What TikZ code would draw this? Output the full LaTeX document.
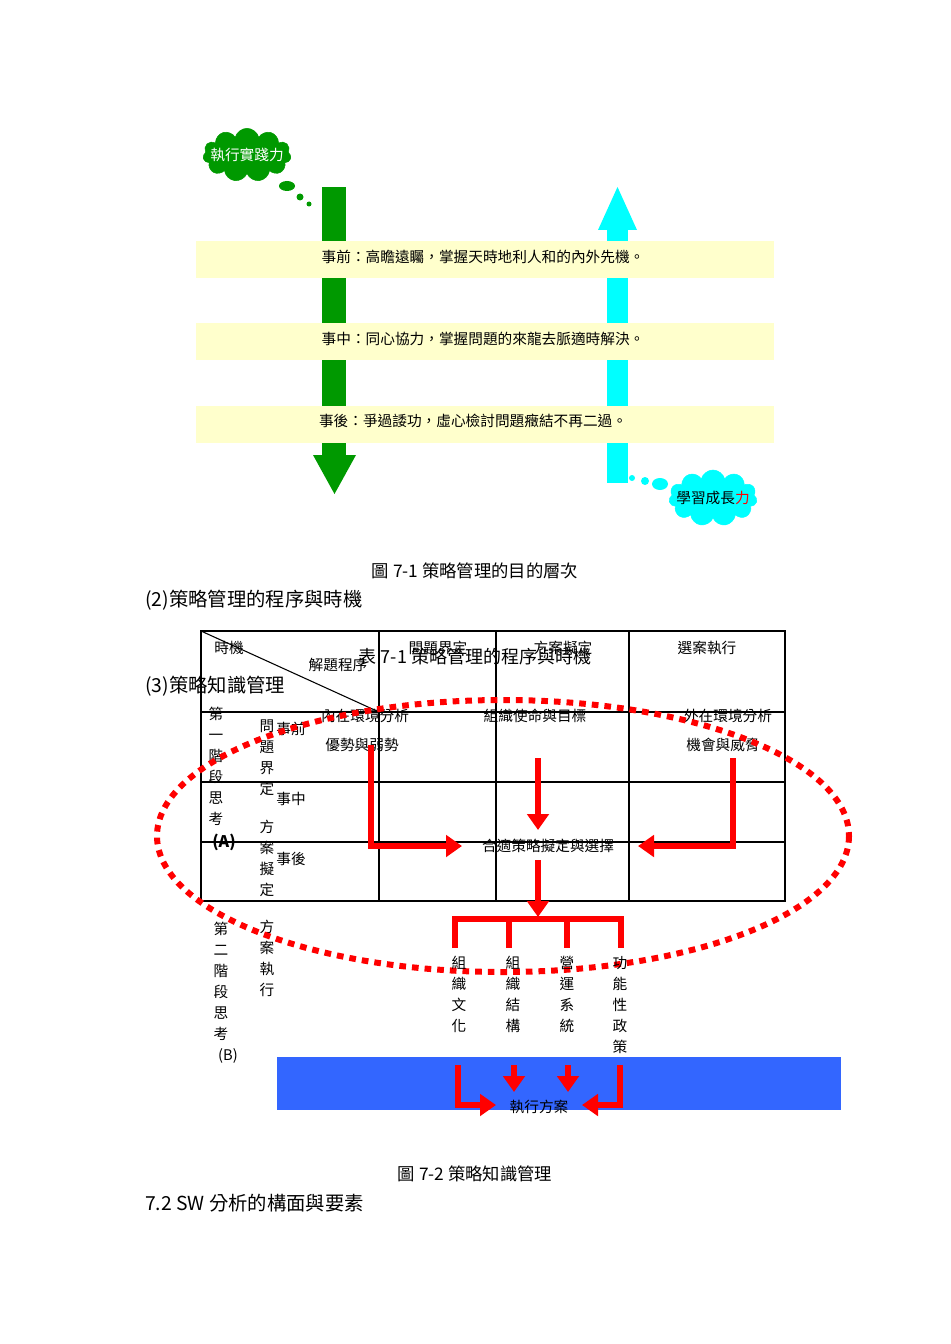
\documentclass[tikz,border=0pt]{standalone}
\usepackage{fontspec}
\setmainfont{Noto Sans CJK TC}
\usetikzlibrary{shapes.symbols,arrows.meta}
\definecolor{band}{HTML}{FFFFCC}
\definecolor{gbar}{HTML}{009900}
\definecolor{cbar}{HTML}{00FFFF}
\definecolor{bbar}{HTML}{3366FF}
\begin{document}
\begin{tikzpicture}[x=0.75pt,y=-0.75pt,
  t/.style={font=\fontsize{11}{11}\selectfont,inner sep=0pt},
  big/.style={font=\fontsize{14.5}{14.5}\selectfont,inner sep=0pt},
  vt/.style={t,align=center,anchor=north,font=\fontsize{11}{15.7}\selectfont},
  rarr/.style={red,line width=4.5pt,-{Triangle[length=12pt,width=16pt]}},
  rl/.style={red,line width=4.5pt}]
\useasboundingbox (0,0) rectangle (950,1344);
% top diagram
\fill[gbar] (322,187) rectangle (346,456);
\fill[gbar] (313,455) -- (356,455) -- (334.5,494) -- cycle;
\fill[cbar] (607,483) rectangle (628,228);
\fill[cbar] (598,230) -- (637,230) -- (617.5,187) -- cycle;
\foreach \y in {241,323,406} \fill[band] (196,\y) rectangle (774,\y+37);
\node[t] (b1) at (483,257) {事前：高瞻遠矚，掌握天時地利人和的內外先機。};
\node[t] (b2) at (483,339) {事中：同心協力，掌握問題的來龍去脈適時解決。};
\node[t] (b3) at (473,421) {事後：爭過諉功，虛心檢討問題癥結不再二過。};
\node[cloud,fill=gbar,draw=gbar,cloud puffs=11,minimum width=66pt,minimum height=40pt,aspect=1.7] (c1) at (247,155) {};
\node[t,white] at (c1) {執行實踐力};
\fill[gbar] (287,186) ellipse (8 and 5) (300,197) circle (3.5) (309,204) circle (2.5);
\node[cloud,fill=cbar,draw=cbar,cloud puffs=11,minimum width=66pt,minimum height=42pt,aspect=1.7] (c2) at (713,498) {};
\node[t] at (c2) {學習成長\textcolor{red}{力}};
\fill[cbar] (632,478) circle (3) (645,481) circle (4) (660,484) ellipse (8 and 6);
\node[t,font=\fontsize{13}{13}\selectfont] (cap1) at (475,571) {圖 7-1 策略管理的目的層次};
\node[big,anchor=west] (h2) at (145,600) {(2)策略管理的程序與時機};
% table
\draw[thick] (201,631) rectangle (785,901);
\foreach \x in {379,496,629} \draw[thick] (\x,631) -- (\x,901);
\foreach \y in {712,782,842} \draw[thick] (201,\y) -- (785,\y);
\draw[thick] (201,631) -- (379,712);
\node[t] (hd0) at (229,648) {時機};
\node[t] (hd1) at (338,665) {解題程序};
\node[t] (hd2) at (438,648) {問題界定};
\node[t] (hd3) at (563,648) {方案擬定};
\node[t] (hd4) at (707,648) {選案執行};
\node[t,font=\fontsize{13.5}{13.5}\selectfont] (cap2) at (475,657) {表 7-1 策略管理的程序與時機};
\node[big,anchor=west] (h3) at (145,686) {(3)策略知識管理};
\node[t] (r1) at (365,716) {內在環境分析};
\node[t] (r2) at (362,745) {優勢與弱勢};
\node[t] (r3) at (535,716) {組織使命與目標};
\node[t] (r4) at (728,716) {外在環境分析};
\node[t] (r5) at (723,745) {機會與威脅};
\node[t] (mid) at (548,846) {合適策略擬定與選擇};
\node[vt] at (216,707) {第\\一\\階\\段\\思\\考};
\node[t,font=\bfseries\fontsize{12}{12}\selectfont] at (224,842) {(A)};
\node[vt] at (267,720) {問\\題\\界\\定};
\node[vt] at (267,820) {方\\案\\擬\\定};
\node[t] at (291,729) {事前};
\node[t] at (291,799) {事中};
\node[t] at (291,859) {事後};
\node[vt] at (221,922) {第\\二\\階\\段\\思\\考};
\node[t] at (228,1056) {(B)};
\node[vt] at (267,920) {方\\案\\執\\行};
% ellipse
\draw[red,line width=4.5pt,dash pattern=on 5pt off 4.5pt] (503,836) ellipse (346 and 136);
% arrows
\draw[rarr] (371,745) |- (462,846);
\draw[rarr] (538,758) -- (538,830);
\draw[rarr] (733,758) |- (638,846);
\draw[rarr] (538,860) -- (538,917);
\draw[rl] (455,948) |- (621,919) -- (621,948);
\draw[rl] (509,919) -- (509,948);
\draw[rl] (567,919) -- (567,948);
\node[vt] at (459,956) {組\\織\\文\\化};
\node[vt] at (513,956) {組\\織\\結\\構};
\node[vt] at (567,956) {營\\運\\系\\統};
\node[vt] at (620,956) {功\\能\\性\\政\\策};
\fill[bbar] (277,1057) rectangle (841,1110);
\node[t] (exe) at (539,1107) {執行方案};
\draw[rarr] (458,1065) |- (496,1105);
\draw[rarr] (514,1065) -- (514,1092);
\draw[rarr] (568,1065) -- (568,1092);
\draw[rarr] (620,1065) |- (582,1105);
\node[t,font=\fontsize{13}{13}\selectfont] (cap3) at (475,1174) {圖 7-2 策略知識管理};
\node[big,anchor=west] (h4) at (145,1203) {7.2 SW 分析的構面與要素};
\end{tikzpicture}
\end{document}
